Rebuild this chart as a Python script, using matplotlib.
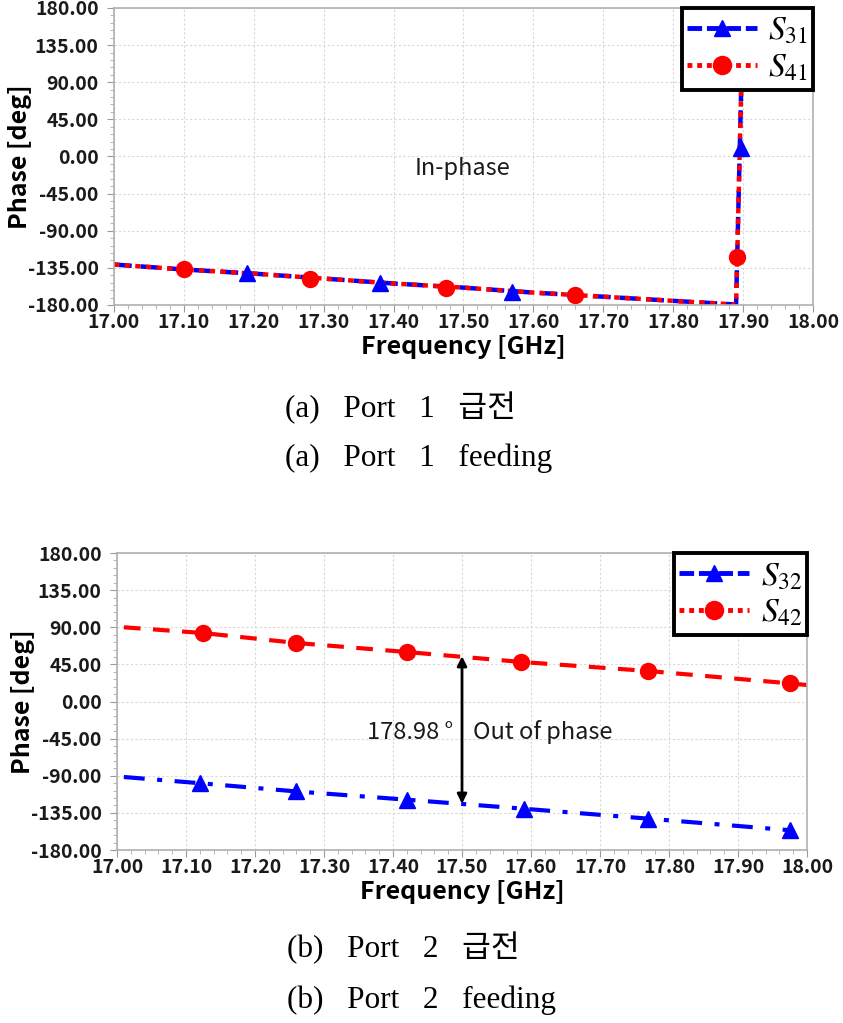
import numpy as np
import matplotlib.pyplot as plt
from matplotlib.lines import Line2D
from matplotlib.ticker import MultipleLocator

plt.rcParams['font.family'] = ['Noto Sans CJK KR', 'DejaVu Sans']
plt.rcParams['mathtext.fontset'] = 'stix'

# (a) Port 1 feeding - traces
freq_a = [17.00, 17.10, 17.20, 17.30, 17.40, 17.50, 17.60, 17.70, 17.80, 17.89, 17.90]
s31 = [-131, -137, -142, -148, -154, -159, -165, -170, -175, -179.5, 180]
s41 = [-131, -137, -142, -148, -154, -159, -165, -170, -175, -179.5, 180]
# marker positions as drawn by the solver
s31_mf = [17.19, 17.38, 17.57, 17.897]
s31_mv = [-141, -153, -164, 10]
s41_mf = [17.10, 17.28, 17.475, 17.66, 17.892]
s41_mv = [-137, -148, -159, -168, -122]

# (b) Port 2 feeding
freq_b42 = [17.01, 17.125, 17.26, 17.42, 17.585, 17.77, 17.975, 18.00]
s42 = [90, 83, 71, 60, 48, 37, 22, 20]
freq_b32 = [17.01, 17.12, 17.26, 17.42, 17.59, 17.77, 17.975]
s32 = [-91.5, -99, -109, -119, -130, -142, -156]
s42_mf = [17.125, 17.26, 17.42, 17.585, 17.77, 17.975]
s42_mv = [83, 71, 60, 48, 37, 22]
s32_mf = [17.12, 17.26, 17.42, 17.59, 17.77, 17.975]
s32_mv = [-99, -109, -119, -130, -142, -156]

arrow_f = 17.50
arrow_top, arrow_bot = 55, -124

xticks = np.arange(17.0, 18.001, 0.1)
yticks = np.arange(-180, 181, 45)

BLUE = '#0000ff'
RED = '#ff0000'


def style_axes(ax):
    ax.set_xlim(17.0, 18.0)
    ax.set_ylim(-180, 180)
    ax.set_xticks(xticks)
    ax.set_yticks(yticks)
    ax.set_xticklabels([f'{v:.2f}' for v in xticks])
    ax.set_yticklabels([f'{v:.2f}' for v in yticks])
    ax.xaxis.set_minor_locator(MultipleLocator(0.02))
    ax.yaxis.set_minor_locator(MultipleLocator(9))
    ax.tick_params(which='major', length=5, color='#999999', labelsize=14,
                   labelcolor='#1a1a1a')
    ax.tick_params(axis='y', which='major', pad=6)
    ax.tick_params(axis='x', which='major', pad=1)
    ax.tick_params(which='minor', length=3, color='#aaaaaa')
    for lab in ax.get_xticklabels() + ax.get_yticklabels():
        lab.set_fontweight('bold')
    for sp in ax.spines.values():
        sp.set_color('#b0b0b0')
        sp.set_linewidth(1.2)
    ax.grid(True, which='major', color='#d8d8d8', linestyle=(0, (2, 2)), linewidth=0.8)
    ax.set_xlabel('Frequency [GHz]', fontsize=18, fontweight='bold', labelpad=2)
    ax.set_ylabel('Phase [deg]', fontsize=18, fontweight='bold', labelpad=-3)


def add_legend(ax, handles):
    leg = ax.legend(handles=handles, loc='upper right', bbox_to_anchor=(1.0, 1.0),
                    borderaxespad=0, fancybox=False, fontsize=24, handlelength=2.1,
                    framealpha=1, edgecolor='black', borderpad=0.15,
                    labelspacing=0.05, handletextpad=0.35)
    leg.get_frame().set_linewidth(2.8)


fig = plt.figure(figsize=(8.43, 10.23), dpi=100)

# ---- (a) ----
ax1 = fig.add_axes([0.1352, 0.7019, 0.8292, 0.2903])
ax1.plot(freq_a, s31, color=BLUE, lw=3.2, linestyle=(0, (4, 2)))
ax1.plot(freq_a, s41, color=RED, lw=3.2, linestyle=(0, (1.2, 1.2)))
ax1.plot(s31_mf, s31_mv, '^', color=BLUE, ms=11, ls='none')
ax1.plot(s41_mf, s41_mv, 'o', color=RED, ms=11.5, ls='none')
ax1.text(17.498, -14, 'In-phase', fontsize=17, ha='center', va='center', color='#1a1a1a')
style_axes(ax1)
add_legend(ax1, [
    Line2D([], [], color=BLUE, lw=3.5, linestyle=(0, (3, 1)), marker='^', ms=12, label='$S_{31}$'),
    Line2D([], [], color=RED, lw=3.5, linestyle=(0, (1, 1)), marker='o', ms=13, label='$S_{41}$'),
])

# ---- (b) ----
ax2 = fig.add_axes([0.1388, 0.1691, 0.8185, 0.2903])
ax2.plot(freq_b42, s42, color=RED, lw=3, linestyle=(0, (4, 3)))
ax2.plot(freq_b32, s32, color=BLUE, lw=3, linestyle=(0, (5, 3, 1.2, 3)))
ax2.plot(s32_mf, s32_mv, '^', color=BLUE, ms=11, ls='none')
ax2.plot(s42_mf, s42_mv, 'o', color=RED, ms=11.5, ls='none')
ax2.annotate('', xy=(arrow_f, arrow_top), xytext=(arrow_f, arrow_bot),
             arrowprops=dict(arrowstyle='<|-|>', color='black', lw=2,
                             mutation_scale=14, shrinkA=0, shrinkB=0))
ax2.text(arrow_f - 0.012, -37, '178.98 °', fontsize=17, ha='right', va='center', color='#1a1a1a')
ax2.text(arrow_f + 0.016, -37, 'Out of phase', fontsize=17, ha='left', va='center', color='#1a1a1a')
style_axes(ax2)
add_legend(ax2, [
    Line2D([], [], color=BLUE, lw=3.5, linestyle=(0, (3, 1)), marker='^', ms=12, label='$S_{32}$'),
    Line2D([], [], color=RED, lw=3.5, linestyle=(0, (1, 1)), marker='o', ms=13, label='$S_{42}$'),
])

# captions
cap_font = ['Liberation Serif', 'Noto Sans CJK KR']
fig.text(285 / 843, 1 - 408 / 1023, '(a)   Port   1   급전', fontsize=22.5, family=cap_font, va='center')
fig.text(285 / 843, 1 - 458 / 1023, '(a)   Port   1   feeding', fontsize=22.5, family=cap_font, va='center')
fig.text(287 / 843, 1 - 948 / 1023, '(b)   Port   2   급전', fontsize=22.5, family=cap_font, va='center')
fig.text(287 / 843, 1 - 1000 / 1023, '(b)   Port   2   feeding', fontsize=22.5, family=cap_font, va='center')

fig.savefig('out.png', dpi=100)
